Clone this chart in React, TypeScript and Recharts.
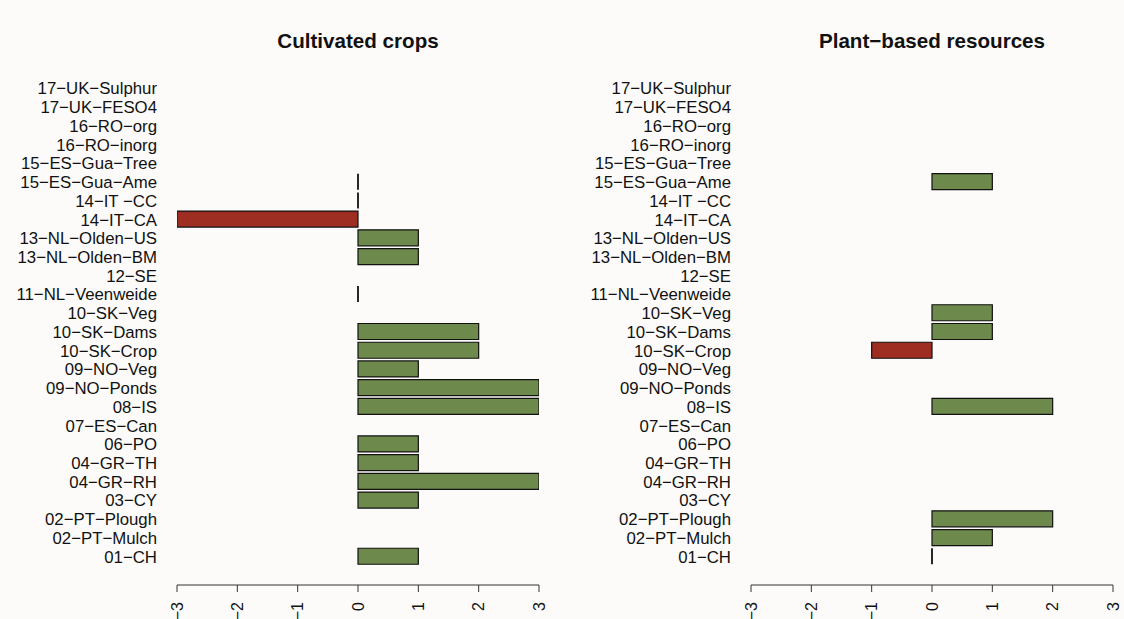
import { Bar, BarChart, XAxis, YAxis } from 'recharts';

const sites = [
    '17-UK-Sulphur',
    '17-UK-FESO4',
    '16-RO-org',
    '16-RO-inorg',
    '15-ES-Gua-Tree',
    '15-ES-Gua-Ame',
    '14-IT -CC',
    '14-IT-CA',
    '13-NL-Olden-US',
    '13-NL-Olden-BM',
    '12-SE',
    '11-NL-Veenweide',
    '10-SK-Veg',
    '10-SK-Dams',
    '10-SK-Crop',
    '09-NO-Veg',
    '09-NO-Ponds',
    '08-IS',
    '07-ES-Can',
    '06-PO',
    '04-GR-TH',
    '04-GR-RH',
    '03-CY',
    '02-PT-Plough',
    '02-PT-Mulch',
    '01-CH',
];

// null = no data for the site
const cultivated = [
    null, null, null, null, null, 0, 0, -3, 1, 1, null, 0, null,
    2, 2, 1, 3, 3, null, 1, 1, 3, 1, null, null, 1,
];

const plantBased = [
    null, null, null, null, null, 1, null, null, null, null, null, null, 1,
    1, -1, null, null, 2, null, null, null, null, null, 2, 1, 0,
];

const xTicks = [-3, -2, -1, 0, 1, 2, 3];

const FONT = '"Liberation Sans", Arial, Helvetica, sans-serif';
const GREEN = '#6d8a4c';
const RED = '#9e2e22';

const toMinus = (s: string) => s.replace(/-/g, '\u2212');

const XTick = ({ x, y, payload }: any) => (
    <text
        x={x}
        y={y}
        transform={`rotate(-90 ${x} ${y})`}
        textAnchor="end"
        dy="0.35em"
        fontSize={16}
        fontFamily={FONT}
        fill="#111"
    >
        {toMinus(String(payload.value))}
    </text>
);

const YTick = ({ x, y, payload }: any) => (
    <text
        x={x}
        y={y}
        textAnchor="end"
        dy="0.36em"
        fontSize={16.8}
        fontFamily={FONT}
        fill="#111"
    >
        {toMinus(String(payload.value))}
    </text>
);

// path instead of rect, so a zero value still shows as a thin line like R's barplot
const BarShape = (props: any) => {
    const { x, y, width, height, payload } = props;
    const v = payload?.value;
    if (v === null || v === undefined) return <g />;
    const left = v === 0 ? x : Math.min(x, x + width);
    const w = v === 0 ? 0 : Math.abs(width);
    const d = `M${left},${y}H${left + w}V${y + height}H${left}Z`;
    return (
        <path
            d={d}
            fill={v < 0 ? RED : GREEN}
            stroke="#111"
            strokeWidth={v === 0 ? 1.8 : 1.2}
        />
    );
};

const Panel = ({
    values,
    yWidth,
    right,
}: {
    values: (number | null)[];
    yWidth: number;
    right: number;
}) => {
    const data = sites.map((site, i) => ({ site, value: values[i] }));
    return (
        <BarChart
            width={yWidth + 362 + right}
            height={619}
            data={data}
            layout="vertical"
            margin={{ top: 79, right, bottom: 0, left: 0 }}
        >
            <XAxis
                type="number"
                domain={[-3, 3]}
                ticks={xTicks}
                allowDataOverflow
                height={34}
                tickSize={7}
                tickMargin={10}
                tick={<XTick />}
                stroke="#333"
                tickLine={{ stroke: '#333' }}
            />
            <YAxis
                type="category"
                dataKey="site"
                width={yWidth}
                interval={0}
                axisLine={false}
                tickLine={false}
                tickSize={0}
                tickMargin={20}
                padding={{ top: 0, bottom: 19 }}
                tick={<YTick />}
            />
            <Bar
                dataKey="value"
                barSize={16}
                minPointSize={1}
                shape={<BarShape />}
                isAnimationActive={false}
            />
        </BarChart>
    );
};

const App = () => {
    return (
        <div
            style={{
                position: 'absolute',
                left: 0,
                top: 0,
                width: 1124,
                height: 619,
                background: '#fcfbfa',
                fontFamily: FONT,
                overflow: 'hidden',
            }}
        >
            <div style={{ position: 'absolute', left: 0, top: 0 }}>
                <Panel values={cultivated} yWidth={177} right={21} />
            </div>
            <div style={{ position: 'absolute', left: 560, top: 0 }}>
                <Panel values={plantBased} yWidth={191} right={11} />
            </div>
            {/* panel titles */}
            <svg
                width={1124}
                height={70}
                style={{ position: 'absolute', left: 0, top: 0 }}
            >
                <text
                    x={358}
                    y={48}
                    textAnchor="middle"
                    fontSize={20.6}
                    fontWeight="bold"
                    fontFamily={FONT}
                    fill="#111"
                >
                    Cultivated crops
                </text>
                <text
                    x={932}
                    y={48}
                    textAnchor="middle"
                    fontSize={20.6}
                    fontWeight="bold"
                    fontFamily={FONT}
                    fill="#111"
                >
                    {'Plant\u2212based resources'}
                </text>
            </svg>
        </div>
    );
};

export default App;
